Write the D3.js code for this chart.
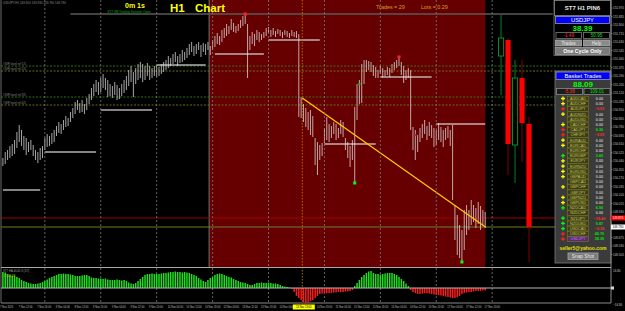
<!DOCTYPE html>
<html>
<head>
<meta charset="utf-8">
<script src="https://cdn.jsdelivr.net/npm/d3@7"></script>
<style>
  html, body { margin: 0; padding: 0; background: #000; overflow: hidden; }
  svg { display: block; }
</style>
</head>
<body>
<div id="chart"></div>
<script>
// ---- data ----
const barHigh = [
  150.47,150.53,150.55,150.59,150.61,150.65,150.73,150.80,150.75,150.69,
  150.67,150.63,150.65,150.60,150.55,150.53,150.57,150.59,150.67,150.71,
  150.69,150.72,150.75,150.79,150.83,150.81,150.85,150.89,150.87,150.93,
  150.97,151.03,151.05,151.02,151.05,151.01,151.07,151.11,151.17,151.21,
  151.25,151.23,151.27,151.31,151.27,151.25,151.21,151.19,151.23,151.20,
  151.17,151.21,151.25,151.29,151.35,151.39,151.33,151.37,151.41,151.43,
  151.41,151.39,151.42,151.39,151.37,151.39,151.40,151.38,151.41,151.43,
  151.45,151.49,151.47,151.51,151.53,151.49,151.51,151.55,151.53,151.57,
  151.61,151.63,151.59,151.61,151.63,151.60,151.62,151.61,151.63,151.59,
  151.65,151.69,151.72,151.69,151.75,151.77,151.81,151.79,151.86,151.82,
  151.79,151.81,151.85,151.89,151.91,151.81,151.69,151.73,151.71,151.75,
  151.73,151.71,151.73,151.77,151.78,151.75,151.77,151.74,151.76,151.75,
  151.73,151.75,151.74,151.72,151.75,151.73,151.74,151.71,151.08,151.01,
  150.97,150.93,150.95,150.89,150.67,150.63,150.60,150.62,150.77,150.88,
  150.81,150.79,150.83,150.81,150.77,150.85,150.83,150.67,150.63,150.59,
  150.65,150.98,151.21,151.25,151.41,151.45,151.45,151.44,151.43,151.40,
  151.38,151.35,151.39,151.37,151.35,151.38,151.37,151.41,151.43,151.45,
  151.48,151.43,151.39,151.35,151.37,151.35,150.78,150.75,150.70,150.77,
  150.81,150.85,150.79,150.83,150.80,150.77,150.75,150.82,150.78,150.75,
  150.77,150.79,150.75,150.80,150.00,149.90,149.80,149.75,149.95,150.00,
  149.95,150.05,150.00,149.97,150.03,149.99,149.95,149.93
];
const barLow = [
  150.39,150.41,150.45,150.47,150.49,150.51,150.57,150.63,150.59,150.55,
  150.50,150.53,150.55,150.49,150.45,150.42,150.45,150.47,150.55,150.58,
  150.59,150.61,150.63,150.69,150.72,150.71,150.75,150.78,150.79,150.83,
  150.87,150.91,150.95,150.92,150.93,150.91,150.95,151.01,151.05,151.09,
  151.13,151.10,151.13,151.17,151.15,151.08,151.09,151.07,151.10,151.05,
  151.06,151.09,151.12,151.15,151.19,151.23,151.08,151.21,151.25,151.27,
  151.23,151.25,151.29,151.25,151.27,151.29,151.28,151.29,151.31,151.33,
  151.35,151.37,151.39,151.41,151.43,151.39,151.42,151.43,151.45,151.47,
  151.50,151.53,151.49,151.51,151.55,151.48,151.53,151.50,151.55,151.50,
  151.55,151.58,151.61,151.60,151.63,151.67,151.69,151.71,151.75,151.73,
  151.72,151.74,151.77,151.79,151.81,151.27,151.55,151.61,151.59,151.65,
  151.63,151.65,151.67,151.69,151.72,151.68,151.70,151.68,151.71,151.69,
  151.67,151.70,151.68,151.67,151.69,151.68,151.67,150.88,150.87,150.83,
  150.78,150.75,150.70,150.68,150.40,150.30,150.45,150.49,150.62,150.65,
  150.63,150.67,150.71,150.65,150.67,150.71,150.68,150.55,150.47,150.38,
  150.45,150.22,150.85,151.01,151.02,151.21,151.33,151.35,151.33,151.29,
  151.27,151.27,151.31,151.28,151.29,151.30,151.28,151.32,151.35,151.37,
  151.39,151.30,151.22,151.25,151.27,150.75,150.55,150.45,150.53,150.63,
  150.67,150.71,150.65,150.69,150.67,150.58,150.60,150.65,150.63,150.58,
  150.65,150.67,150.59,150.05,149.65,149.50,149.47,149.43,149.55,149.70,
  149.75,149.80,149.83,149.77,149.81,149.75,149.79,149.77
];
const histo = [
  16,15.5,14,13,12,12.5,11,10,8,7,
  6,5,4.5,4,4,4.5,5,6,7,8.5,
  10,11,12,13,14,14,14.5,14,14,13.5,
  13,12,12,12,12.5,13,13,12,10.5,10,
  10,9.5,9.5,9,9.5,8.5,8,8,8,8.5,
  8,7.5,8,7,5.5,4.5,4,5,7,9,
  11,13,14,14,14.5,14,14,14,14.5,15,
  15,15.5,16,16,16.5,16,16,15.5,16,15.5,
  15,14,13,12,10,8.5,7,6,8,10,
  11,13,14,14.5,14,13,12,11,10.5,9,
  8,7,6,5.5,5,4,3,3,4,5,
  5,5.5,5,5,5.5,5,4.5,4.5,4,3,
  2,1.5,1,0.5,-1,-4,-8,-10,-12,-14,
  -15,-14.5,-13,-12,-10,-8,-6,-5.5,-5,-5,
  -5,-5,-4.5,-4.5,-4,-4,-4,-3.5,-3.5,-3,
  -2,2,5,8,11,13,15,16.5,17,15,
  14,14,13.5,14,14.5,15,15,15,14,13,
  11,9,7,4.5,2,-2,-4,-5,-6,-6,
  -5.5,-5,-5,-5.5,-6,-6.5,-7,-7,-7.5,-8,
  -8.5,-9,-9.5,-10,-10,-9,-8,-6,-5,-4.5,
  -4,-4,-3.5,-3,-3,-3,-2.5,-2.5
];
const timeLabels = [
  [0,"7 Nov 2023"],[8,"7 Nov 12:00"],[16,"7 Nov 20:00"],[24,"8 Nov 04:00"],
  [32,"8 Nov 12:00"],[40,"8 Nov 20:00"],[48,"9 Nov 04:00"],[56,"9 Nov 12:00"],
  [64,"9 Nov 20:00"],[72,"10 Nov 04:00"],[80,"10 Nov 12:00"],[88,"10 Nov 20:00"],
  [96,"13 Nov 04:00"],[104,"13 Nov 12:00"],[112,"13 Nov 20:00"],[120,"14 Nov 04:00"],
  [136,"14 Nov 20:00"],[144,"15 Nov 04:00"],[152,"15 Nov 12:00"],[160,"15 Nov 20:00"],
  [168,"16 Nov 04:00"],[176,"16 Nov 12:00"],[184,"16 Nov 20:00"],[192,"17 Nov 04:00"],
  [200,"17 Nov 12:00"],[208,"17 Nov 20:00"]
];
const markedTime = [128.5, "14 Nov 13:00"];
const priceTicks = [
  151.970,151.885,151.800,151.715,151.630,151.545,151.460,151.375,151.290,151.205,
  151.120,151.035,150.950,150.865,150.780,150.695,150.610,150.525,150.440,150.355,
  150.270,150.185,150.100,150.015,149.930,149.675,149.590,149.505
];
const histoTicks = [16.8, -16.8];
const gridBars = [18, 42, 66, 90, 114, 138, 162, 186, 210];
// daily open segments [fromBar, toBar, price]
const dayLines = [
  [0,16,150.15],[18,40,150.53],[42,64,150.95],[66,87,151.40],[91,112,151.51],
  [114,136,151.65],[138,160,150.61],[162,184,151.28],[186,207,150.81]
];
// dotted S/R levels [price, colour]
const srLevels = [[151.39,"#2f7d1f"],[151.34,"#6f7a1c"],[151.08,"#2f7d1f"],[151.00,"#6f7a1c"]];
const markers = [
  [104,151.91,"#ff2020",3],[170,151.48,"#ff2020",3],[151,150.22,"#00ff00",3],
  [197,149.43,"#00ff00",3],[153,151.21,"#00cc00",2],[177,150.70,"#cc2020",2]
];
const trendLine = [[128.5,151.07],[207.1,149.78]];
const redZone = [88.5, 207.1];
const sellLine = 149.87, bidLine = 149.78, highLine = [29, 236, 151.91];
// daily candles on the right [bar, open, high, low, close]
const bigCandles = [
  [213.8,151.49,151.90,151.10,151.67],
  [216.8,151.65,151.67,150.30,150.61],
  [219.8,150.60,151.45,150.22,151.27],
  [222.8,151.27,151.45,150.43,150.82],
  [225.8,150.81,150.88,149.43,149.78]
];
const pairs = ["AUDCAD","AUDCHF","AUDJPY","AUDNZD","AUDUSD","CADCHF","CADJPY","CHFJPY",
  "EURAUD","EURCAD","EURCHF","EURGBP","EURJPY","EURNZD","EURUSD","GBPAUD","GBPCAD",
  "GBPCHF","GBPJPY","GBPNZD","GBPUSD","NZDCAD","NZDCHF","NZDJPY","NZDUSD","USDCAD",
  "USDCHF","USDJPY"];
const pairProfit = [0,0,-0.81,0,0,0,9.36,-2.81,0,0,0,3.60,0,0,0,0,0,0,0,0,0,6.90,0,-15.40,9.87,-5.36,40.76,38.39];
const pairIcon = ["#ffff00","#ffff00","#ff2020","#ffff00",null,"#ffff00","#ff2020","#ff2020",
  "#ffff00","#ffff00",null,"#00ff00","#ffff00","#ffff00","#ffff00","#ffff00",null,
  "#ffff00",null,"#ffff00","#ffff00","#00ff00",null,"#00ff00","#00ff00","#00ff00",
  "#ff2020","#ff2020"];

const W = 625, H = 311;
const font = "'Liberation Sans', Arial, sans-serif";
const axisRight = 611, mainBottom = 267, indBottom = 303;

const svg = d3.select("#chart").append("svg")
  .attr("width", W).attr("height", H)
  .style("background", "#000")
  .attr("font-family", font);

const x = d3.scaleLinear().domain([0, 210]).range([2.9, 492.2]);
const y = d3.scaleLinear().domain([149.45, 152.05]).range([260, 0]);
const yInd = d3.scaleLinear().domain([-17, 17]).range([305, 271]);

const defs = svg.append("defs");
defs.append("clipPath").attr("id", "mainClip").append("rect")
  .attr("x", 1).attr("y", 0).attr("width", axisRight - 1).attr("height", mainBottom);
defs.append("clipPath").attr("id", "indClip").append("rect")
  .attr("x", 1).attr("y", mainBottom + 1).attr("width", axisRight - 1).attr("height", indBottom - mainBottom - 1);

const main = svg.append("g").attr("clip-path", "url(#mainClip)");

// red zone
main.append("rect")
  .attr("x", x(redZone[0])).attr("y", 0)
  .attr("width", x(redZone[1]) - x(redZone[0])).attr("height", mainBottom)
  .attr("fill", "#660000");
main.append("line")
  .attr("x1", x(redZone[0])).attr("x2", x(redZone[0]))
  .attr("y1", 0).attr("y2", mainBottom)
  .attr("stroke", "#8a8a8a").attr("stroke-width", 0.8);

// vertical grid
svg.append("g").selectAll("line").data(gridBars).join("line")
  .attr("x1", d => x(d)).attr("x2", d => x(d))
  .attr("y1", 0).attr("y2", indBottom)
  .attr("stroke", "#7a7a7a").attr("stroke-width", 0.8)
  .attr("stroke-dasharray", "2,2");

// marked time
svg.append("line")
  .attr("x1", x(markedTime[0])).attr("x2", x(markedTime[0]))
  .attr("y1", 0).attr("y2", indBottom)
  .attr("stroke", "#c07800").attr("stroke-width", 0.9)
  .attr("stroke-dasharray", "1.5,1.5");

// S/R dotted levels
main.append("g").selectAll("line").data(srLevels).join("line")
  .attr("x1", 1).attr("x2", axisRight)
  .attr("y1", d => y(d[0])).attr("y2", d => y(d[0]))
  .attr("stroke", d => d[1]).attr("stroke-width", 0.9)
  .attr("stroke-dasharray", "2,1.5");
main.append("g").selectAll("text").data(srLevels).join("text")
  .attr("x", 3).attr("y", d => y(d[0]) - 0.8)
  .attr("font-size", 3).attr("fill", "#8a8a8a")
  .text((d, i) => `#S/R level ref ${i + 1}/5`);

// sell / bid lines
main.append("line").attr("x1", 1).attr("x2", axisRight)
  .attr("y1", y(sellLine)).attr("y2", y(sellLine))
  .attr("stroke", "#a00000").attr("stroke-width", 1);
main.append("line").attr("x1", 1).attr("x2", axisRight)
  .attr("y1", y(bidLine)).attr("y2", y(bidLine))
  .attr("stroke", "#6f7f22").attr("stroke-width", 1);

// top high line
main.append("line")
  .attr("x1", x(highLine[0])).attr("x2", x(highLine[1]))
  .attr("y1", y(highLine[2])).attr("y2", y(highLine[2]))
  .attr("stroke", "#5a5a5a").attr("stroke-width", 1.5);

// daily open segments
main.append("g").selectAll("line").data(dayLines).join("line")
  .attr("x1", d => x(d[0])).attr("x2", d => x(d[1]))
  .attr("y1", d => y(d[2])).attr("y2", d => y(d[2]))
  .attr("stroke", "#d0d0d0").attr("stroke-opacity", 0.85).attr("stroke-width", 1.4);

// hourly bars
main.append("g").selectAll("line").data(barHigh).join("line")
  .attr("x1", (d, i) => x(i)).attr("x2", (d, i) => x(i))
  .attr("y1", d => y(d)).attr("y2", (d, i) => y(barLow[i]))
  .attr("stroke", "#e6e6e6").attr("stroke-opacity", 0.72).attr("stroke-width", 1);

// trend line
main.append("line")
  .attr("x1", x(trendLine[0][0])).attr("y1", y(trendLine[0][1]))
  .attr("x2", x(trendLine[1][0])).attr("y2", y(trendLine[1][1]))
  .attr("stroke", "#ffcc00").attr("stroke-width", 1.2);

// markers
main.append("g").selectAll("rect").data(markers).join("rect")
  .attr("x", d => x(d[0]) - d[3] / 2).attr("y", d => y(d[1]) - d[3] / 2)
  .attr("width", d => d[3]).attr("height", d => d[3])
  .attr("fill", d => d[2]);

// daily candles
const cg = main.append("g");
bigCandles.forEach(c => {
  const [b, o, h, l, cl] = c;
  const up = cl > o;
  cg.append("line")
    .attr("x1", x(b)).attr("x2", x(b)).attr("y1", y(h)).attr("y2", y(l))
    .attr("stroke", up ? "#00802a" : "#800000").attr("stroke-width", 1);
  cg.append("rect")
    .attr("x", x(b) - 2.6).attr("width", 5.2)
    .attr("y", y(Math.max(o, cl))).attr("height", Math.abs(y(o) - y(cl)))
    .attr("fill", up ? "#000" : "#ff0000")
    .attr("stroke", up ? "#00a030" : "#ff0000").attr("stroke-width", up ? 0.9 : 0);
});

// top texts
svg.append("text").attr("x", 3).attr("y", 4.2).attr("font-size", 3).attr("fill", "#8c8c8c")
  .text("USDJPY,H1  149.800 149.830 149.760 149.780");
svg.append("text").attr("x", 135).attr("y", 7.8).attr("text-anchor", "middle")
  .attr("font-size", 7).attr("font-weight", "bold").attr("fill", "#ffff00").text("0m 1s");
svg.append("text").attr("x", 129).attr("y", 12.6).attr("text-anchor", "middle")
  .attr("font-size", 3.2).attr("fill", "#00b000").text("ST7 3M Trading Session Open");
svg.append("text").attr("x", 170).attr("y", 11.5)
  .attr("font-size", 11.5).attr("font-weight", "bold").attr("fill", "#ffff00").text("H1");
svg.append("text").attr("x", 195).attr("y", 11.5)
  .attr("font-size", 11.5).attr("font-weight", "bold").attr("fill", "#ffff00").text("Chart");
svg.append("text").attr("x", 376).attr("y", 9).attr("font-size", 5.4).attr("fill", "#d4a017").text("Trades = 29");
svg.append("text").attr("x", 421).attr("y", 9).attr("font-size", 5.4).attr("fill", "#d4a017").text("Lots = 0.29");

// ---- right panels ----
const panel = svg.append("g");
function box(x0, y0, w, h, fill, stroke, label, color, size, bold) {
  panel.append("rect").attr("x", x0).attr("y", y0).attr("width", w).attr("height", h)
    .attr("fill", fill).attr("stroke", stroke).attr("stroke-width", 0.8);
  if (label) panel.append("text").attr("x", x0 + w / 2).attr("y", y0 + h / 2 + size * 0.36)
    .attr("text-anchor", "middle").attr("font-size", size)
    .attr("font-weight", bold ? "bold" : "normal").attr("fill", color).text(label);
}
box(554, 0, 57, 55.5, "#000", "#7a7a7a");
box(554.5, 0.5, 56, 15, "#000", "#8a8a8a", "ST7 H1 PIN6", "#e8e8e8", 6, true);
box(555.5, 16.5, 54, 7, "#0000ff", "#9a9a9a", "USDJPY", "#ffffff", 5.8);
panel.append("text").attr("x", 582.5).attr("y", 30.5).attr("text-anchor", "middle")
  .attr("font-size", 8).attr("font-weight", "bold").attr("fill", "#00ff00").text("38.39");
box(556, 32.5, 25.5, 6, "#000", "#7a7a7a", "-1.49", "#ff3030", 4.6);
box(583.5, 32.5, 26, 6, "#000", "#7a7a7a", "50.95", "#00e000", 4.6);
box(555.5, 40, 26, 6, "#8a8a8a", "#b0b0b0", "Trades", "#e8e8e8", 4.6);
box(583.5, 40, 26, 6, "#8a8a8a", "#b0b0b0", "Help", "#e8e8e8", 4.6);
box(555.5, 47.5, 54, 7, "#7a7a7a", "#a0a0a0", "One Cycle Only", "#ffffff", 5.2, true);

box(555, 71, 56, 192, "#3b3b3b", "#7a7a7a");
box(556, 72, 54, 7.5, "#0000ff", "#9a9a9a", "Basket Trades", "#ffffff", 5.8);
panel.append("text").attr("x", 583).attr("y", 86.8).attr("text-anchor", "middle")
  .attr("font-size", 8).attr("font-weight", "bold").attr("fill", "#00ff00").text("88.09");
box(556.5, 88.5, 26, 6, "#1c1c1c", "#8a8a8a", "-5.38", "#ff3030", 4.6);
box(584, 88.5, 26, 6, "#1c1c1c", "#8a8a8a", "109.01", "#00e000", 4.6);

const rowY = d3.scaleLinear().domain([0, 27]).range([98.5, 239]);
const rows = panel.append("g").selectAll("g").data(pairs).join("g")
  .attr("transform", (d, i) => `translate(0,${rowY(i)})`);
rows.filter((d, i) => pairIcon[i]).append("path")
  .attr("transform", "translate(563,0)")
  .attr("d", d3.symbol(d3.symbolCross).size(8))
  .attr("fill", d => pairIcon[pairs.indexOf(d)]);
rows.append("rect").attr("x", 567.5).attr("y", -2.3).attr("width", 21).attr("height", 4.6)
  .attr("fill", d => d === "USDJPY" ? "#5a2a78" : "#3a3a22")
  .attr("stroke", "#7a7a10").attr("stroke-width", 0.6);
rows.append("text").attr("x", 578).attr("y", 1.4).attr("text-anchor", "middle")
  .attr("font-size", 3.8).attr("fill", d => d === "USDJPY" ? "#c070ff" : "#c8c84a").text(d => d);
rows.append("text").attr("x", 599.5).attr("y", 1.4).attr("text-anchor", "middle")
  .attr("font-size", 3.8).attr("font-weight", "bold")
  .attr("fill", (d, i) => pairProfit[i] > 0 ? "#00e000" : pairProfit[i] < 0 ? "#ff3030" : "#bdbdbd")
  .text((d, i) => d3.format(".2f")(pairProfit[i]));
panel.append("text").attr("x", 583).attr("y", 250).attr("text-anchor", "middle")
  .attr("font-size", 5).attr("font-weight", "bold").attr("fill", "#e0e000").text("seller5@yahoo.com");
box(568, 253, 30, 6.5, "#7a7a7a", "#a8a8a8", "Snap Shot", "#e8e8e8", 4.8);

// ---- price axis ----
svg.append("line").attr("x1", axisRight).attr("x2", axisRight).attr("y1", 0).attr("y2", indBottom)
  .attr("stroke", "#8a8a8a").attr("stroke-width", 1);
svg.append("line").attr("x1", 1).attr("x2", 1).attr("y1", 0).attr("y2", indBottom)
  .attr("stroke", "#6a6a6a").attr("stroke-width", 1);
const pax = svg.append("g");
pax.selectAll("line").data(priceTicks).join("line")
  .attr("x1", axisRight).attr("x2", axisRight + 1.5)
  .attr("y1", d => y(d)).attr("y2", d => y(d)).attr("stroke", "#9a9a9a").attr("stroke-width", 0.6);
pax.selectAll("text").data(priceTicks).join("text")
  .attr("x", axisRight + 2).attr("y", d => y(d) + 1.1)
  .attr("font-size", 3).attr("fill", "#c8c8c8").text(d => d3.format(".3f")(d));
[[sellLine, "#ff0000", "#ffffff"], [bidLine, "#ffffff", "#000000"]].forEach(([p, bg, fg]) => {
  pax.append("rect").attr("x", axisRight).attr("y", y(p) - 2.5).attr("width", 14).attr("height", 5).attr("fill", bg);
  pax.append("text").attr("x", axisRight + 1.5).attr("y", y(p) + 1.1)
    .attr("font-size", 3).attr("fill", fg).text(d3.format(".3f")(p));
});

// ---- indicator window ----
svg.append("line").attr("x1", 1).attr("x2", axisRight).attr("y1", mainBottom + 0.5).attr("y2", mainBottom + 0.5)
  .attr("stroke", "#a8a8a8").attr("stroke-width", 1);
svg.append("line").attr("x1", 1).attr("x2", axisRight).attr("y1", indBottom).attr("y2", indBottom)
  .attr("stroke", "#8a8a8a").attr("stroke-width", 1);
const ind = svg.append("g").attr("clip-path", "url(#indClip)");
ind.selectAll("rect").data(histo).join("rect")
  .attr("x", (d, i) => x(i) - 0.75).attr("width", 1.5)
  .attr("y", d => Math.min(yInd(d), yInd(0))).attr("height", d => Math.abs(yInd(d) - yInd(0)))
  .attr("fill", d => d >= 0 ? "#1ee01e" : "#ff1a1a");
svg.append("line").attr("x1", 1).attr("x2", axisRight).attr("y1", yInd(0)).attr("y2", yInd(0))
  .attr("stroke", "#b8b8b8").attr("stroke-width", 1);
svg.append("text").attr("x", 3).attr("y", 271.5).attr("font-size", 2.8).attr("fill", "#9a9a9a")
  .text("ST7 HA 44,45,9 (1/7)");
svg.append("text").attr("x", 3).attr("y", 276.5).attr("font-size", 3.4).attr("fill", "#b8c800")
  .text("15.0047");
svg.append("g").selectAll("text").data(histoTicks).join("text")
  .attr("x", axisRight + 2).attr("y", d => yInd(d) + 1.1)
  .attr("font-size", 3).attr("fill", "#c8c8c8").text(d => d3.format(".2f")(d));
svg.append("rect").attr("x", axisRight).attr("y", yInd(0) - 1.5).attr("width", 3).attr("height", 3).attr("fill", "#d8d8d8");

// ---- time axis ----
svg.append("g").selectAll("text").data(timeLabels).join("text")
  .attr("x", d => x(d[0]) - 3).attr("y", 308.2)
  .attr("font-size", 2.6).attr("fill", "#bcbcbc").text(d => d[1]);
svg.append("rect").attr("x", x(markedTime[0]) - 9.5).attr("y", 304.5).attr("width", 22).attr("height", 5)
  .attr("fill", "#ffff00");
svg.append("text").attr("x", x(markedTime[0]) + 1.5).attr("y", 308.2).attr("text-anchor", "middle")
  .attr("font-size", 2.6).attr("fill", "#000").text(markedTime[1]);
</script>
</body>
</html>
